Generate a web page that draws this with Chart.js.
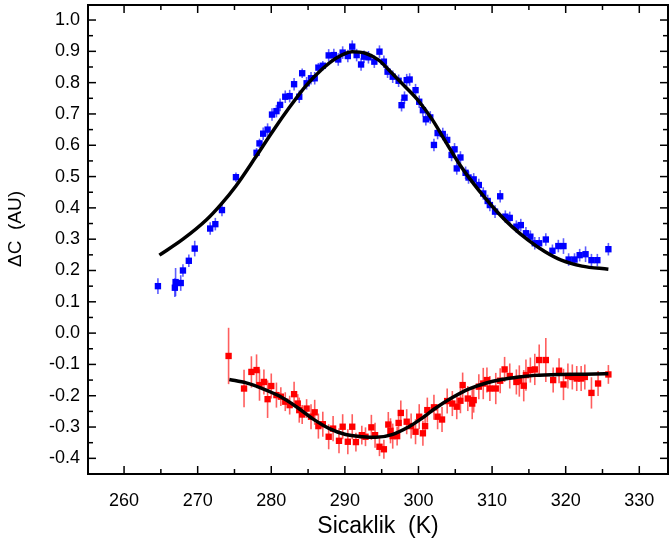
<!DOCTYPE html>
<html>
<head>
<meta charset="utf-8">
<script src="https://cdn.jsdelivr.net/npm/chart.js@4.4.1/dist/chart.umd.min.js"></script>
<style>
  html, body { margin: 0; padding: 0; background: #fff; }
</style>
</head>
<body>
<canvas id="chart" width="669" height="544"></canvas>
<script>
// axis ticks
const xTicks = [260, 270, 280, 290, 300, 310, 320, 330];
const yTicks = [-0.4, -0.3, -0.2, -0.1, 0.0, 0.1, 0.2, 0.3, 0.4, 0.5, 0.6, 0.7, 0.8, 0.9, 1.0];

// blue series (temperature K, dC, error)
const blueT = [
  264.6, 266.9, 267.0, 267.7, 268.0, 268.8, 269.6, 271.7, 272.4, 273.3,
  275.2, 278.0, 278.4, 278.9, 279.5, 280.1, 280.7, 281.2, 281.9, 282.5,
  283.1, 283.8, 284.2, 284.8, 285.4, 285.9, 286.4, 287.0, 287.8, 288.5,
  289.1, 289.7, 290.4, 291.0, 291.6, 292.2, 292.6, 293.2, 294.0, 294.7,
  295.3, 295.8, 296.5, 297.3, 297.7, 298.1, 298.4, 298.8, 299.6, 300.1,
  300.6, 301.0, 301.6, 302.1, 302.6, 303.3, 303.9, 304.5, 304.9, 305.2,
  305.7, 306.4, 306.8, 307.5, 308.2, 308.8, 309.4, 309.7, 310.4, 311.1,
  311.8, 312.4, 313.3, 313.9, 314.6, 315.2, 315.8, 316.4, 317.3, 318.2,
  319.0, 319.7, 320.4, 321.2, 321.9, 322.7, 323.5, 324.3, 325.8
];
const blueC = [
  0.150, 0.145, 0.163, 0.160, 0.200, 0.231, 0.270, 0.334, 0.348, 0.393,
  0.498, 0.576, 0.606, 0.637, 0.650, 0.698, 0.709, 0.729, 0.755, 0.757,
  0.795, 0.755, 0.830, 0.798, 0.814, 0.814, 0.848, 0.854, 0.887, 0.888,
  0.874, 0.896, 0.885, 0.915, 0.888, 0.858, 0.883, 0.881, 0.867, 0.899,
  0.867, 0.835, 0.819, 0.806, 0.728, 0.752, 0.808, 0.810, 0.776, 0.739,
  0.712, 0.683, 0.689, 0.601, 0.639, 0.636, 0.617, 0.569, 0.587, 0.526,
  0.561, 0.512, 0.497, 0.491, 0.473, 0.446, 0.422, 0.409, 0.388, 0.437,
  0.372, 0.368, 0.340, 0.345, 0.319, 0.308, 0.287, 0.287, 0.299, 0.263,
  0.278, 0.278, 0.235, 0.235, 0.249, 0.252, 0.233, 0.233, 0.268
];
const blueErr = [
  0.025, 0.030, 0.045, 0.025, 0.020, 0.020, 0.025, 0.020, 0.020, 0.020,
  0.015, 0.015, 0.015, 0.020, 0.020, 0.020, 0.020, 0.020, 0.020, 0.020,
  0.020, 0.020, 0.015, 0.020, 0.020, 0.020, 0.015, 0.015, 0.020, 0.020,
  0.020, 0.020, 0.020, 0.020, 0.020, 0.020, 0.020, 0.020, 0.020, 0.020,
  0.020, 0.020, 0.020, 0.020, 0.020, 0.020, 0.020, 0.020, 0.020, 0.020,
  0.020, 0.020, 0.020, 0.020, 0.020, 0.020, 0.020, 0.020, 0.020, 0.020,
  0.020, 0.020, 0.020, 0.020, 0.020, 0.020, 0.020, 0.020, 0.020, 0.020,
  0.020, 0.020, 0.020, 0.020, 0.020, 0.020, 0.020, 0.020, 0.020, 0.020,
  0.020, 0.025, 0.020, 0.020, 0.020, 0.025, 0.020, 0.020, 0.020
];

// red series
const redT = [
  274.2, 276.3, 277.3, 278.0, 278.4, 279.0, 279.5, 280.0, 280.7, 281.3,
  281.9, 282.5, 283.1, 283.6, 283.8, 284.2, 284.8, 285.4, 285.9, 286.4,
  287.0, 287.8, 288.4, 289.2, 289.7, 290.4, 291.0, 291.5, 292.3, 292.8,
  293.6, 294.1, 294.7, 295.3, 295.9, 296.2, 296.5, 297.1, 297.3, 297.6,
  298.4, 299.0, 299.6, 300.1, 300.6, 300.9, 301.2, 302.1, 302.6, 303.2,
  303.9, 304.6, 305.2, 305.7, 306.0, 306.7, 307.3, 307.5, 308.2, 308.8,
  309.3, 309.7, 310.5, 311.1, 311.7, 312.4, 313.3, 313.7, 314.3, 314.6,
  315.2, 315.8, 316.4, 317.3, 318.3, 319.1, 319.7, 320.3, 320.9, 321.5,
  322.1, 322.6, 323.5, 324.4, 325.8
];
const redC = [
  -0.073, -0.177, -0.124, -0.118, -0.166, -0.156, -0.211, -0.169, -0.198, -0.203,
  -0.219, -0.230, -0.195, -0.225, -0.246, -0.260, -0.241, -0.267, -0.253, -0.297,
  -0.291, -0.331, -0.305, -0.344, -0.299, -0.347, -0.299, -0.348, -0.326, -0.331,
  -0.301, -0.326, -0.363, -0.371, -0.292, -0.312, -0.329, -0.329, -0.287, -0.255,
  -0.283, -0.297, -0.315, -0.267, -0.320, -0.297, -0.246, -0.237, -0.267, -0.276,
  -0.217, -0.225, -0.235, -0.216, -0.166, -0.209, -0.225, -0.214, -0.171, -0.161,
  -0.150, -0.177, -0.177, -0.152, -0.116, -0.137, -0.156, -0.153, -0.168, -0.134,
  -0.118, -0.116, -0.086, -0.086, -0.150, -0.120, -0.164, -0.137, -0.140, -0.145,
  -0.145, -0.140, -0.191, -0.161, -0.132
];
const redErr = [
  0.090, 0.060, 0.050, 0.050, 0.050, 0.040, 0.060, 0.040, 0.040, 0.030,
  0.030, 0.030, 0.040, 0.030, 0.040, 0.030, 0.030, 0.040, 0.040, 0.040,
  0.040, 0.040, 0.040, 0.040, 0.040, 0.040, 0.040, 0.030, 0.030, 0.030,
  0.040, 0.040, 0.030, 0.030, 0.040, 0.040, 0.040, 0.030, 0.040, 0.040,
  0.040, 0.040, 0.040, 0.040, 0.040, 0.030, 0.040, 0.040, 0.040, 0.040,
  0.040, 0.040, 0.040, 0.040, 0.040, 0.040, 0.050, 0.040, 0.040, 0.050,
  0.040, 0.040, 0.050, 0.040, 0.040, 0.040, 0.040, 0.050, 0.050, 0.050,
  0.040, 0.050, 0.050, 0.070, 0.040, 0.040, 0.050, 0.040, 0.040, 0.040,
  0.040, 0.040, 0.050, 0.040, 0.030
];

// fitted curves
const blueFitT = [264.8, 268.0, 271.2, 273.2, 275.2, 277.9, 280.2, 282.5, 284.7, 287.0,
  288.8, 291.0, 292.8, 294.6, 296.4, 298.2, 300.1, 301.9, 303.7, 305.5,
  307.3, 309.1, 310.9, 312.7, 314.9, 317.2, 319.4, 322.2, 325.8];
const blueFitC = [0.249, 0.300, 0.362, 0.412, 0.470, 0.563, 0.645, 0.722, 0.790, 0.845,
  0.878, 0.899, 0.894, 0.872, 0.830, 0.787, 0.739, 0.681, 0.611, 0.542,
  0.483, 0.430, 0.382, 0.340, 0.297, 0.260, 0.233, 0.214, 0.204];
const redFitT = [274.3, 276.6, 278.8, 281.1, 283.4, 285.6, 287.9, 290.1, 292.4, 294.2,
  296.4, 298.7, 300.1, 302.3, 304.6, 306.8, 309.1, 311.3, 313.6, 315.8,
  319.0, 322.6, 325.8];
const redFitC = [-0.148, -0.159, -0.177, -0.201, -0.235, -0.273, -0.305, -0.324, -0.331, -0.333,
  -0.324, -0.299, -0.278, -0.240, -0.206, -0.179, -0.160, -0.148, -0.140, -0.135,
  -0.132, -0.131, -0.130];

const FONT = '"Liberation Sans", Arial, sans-serif';

const xy = (xs, ys) => xs.map((x, i) => ({ x: x, y: ys[i] }));

// error bars under the points, frame and inward ticks on all four sides
const originFrame = {
  id: 'originFrame',
  beforeDatasetsDraw(chart) {
    const ctx = chart.ctx;
    const ys = chart.scales.y;
    ctx.save();
    chart.data.datasets.forEach((ds, i) => {
      if (!ds.err) return;
      const meta = chart.getDatasetMeta(i);
      ctx.strokeStyle = ds.errColor;
      ctx.lineWidth = 1.6;
      meta.data.forEach((pt, j) => {
        const v = ds.data[j].y, e = ds.err[j];
        ctx.beginPath();
        ctx.moveTo(pt.x, ys.getPixelForValue(v + e));
        ctx.lineTo(pt.x, ys.getPixelForValue(v - e));
        ctx.stroke();
      });
    });
    ctx.restore();
  },
  afterDraw(chart) {
    const ctx = chart.ctx;
    const a = chart.chartArea;
    const xs = chart.scales.x, ys = chart.scales.y;
    ctx.save();
    ctx.strokeStyle = '#000';
    ctx.lineWidth = 2;
    ctx.strokeRect(a.left, a.top, a.right - a.left, a.bottom - a.top);
    ctx.lineWidth = 1.5;
    const tick = (x1, y1, x2, y2) => { ctx.beginPath(); ctx.moveTo(x1, y1); ctx.lineTo(x2, y2); ctx.stroke(); };
    const xMinor = xTicks.map(v => v - 5).concat([xTicks[xTicks.length - 1] + 5]);
    xTicks.forEach(v => {
      const p = xs.getPixelForValue(v);
      tick(p, a.bottom, p, a.bottom - 8);
      tick(p, a.top, p, a.top + 8);
    });
    xMinor.forEach(v => {
      if (v <= xs.min || v >= xs.max) return;
      const p = xs.getPixelForValue(v);
      tick(p, a.bottom, p, a.bottom - 5);
      tick(p, a.top, p, a.top + 5);
    });
    const yMinor = yTicks.map(v => v - 0.05).concat([yTicks[yTicks.length - 1] + 0.05]);
    yTicks.forEach(v => {
      const p = ys.getPixelForValue(v);
      tick(a.left, p, a.left + 8, p);
      tick(a.right, p, a.right - 8, p);
    });
    yMinor.forEach(v => {
      if (v <= ys.min || v >= ys.max) return;
      const p = ys.getPixelForValue(v);
      tick(a.left, p, a.left + 5, p);
      tick(a.right, p, a.right - 5, p);
    });
    ctx.restore();
  }
};

new Chart(document.getElementById('chart'), {
  type: 'scatter',
  data: {
    datasets: [
      {
        label: 'fit 1',
        data: xy(blueFitT, blueFitC),
        showLine: true,
        borderColor: '#000',
        borderWidth: 3.5,
        pointRadius: 0,
        cubicInterpolationMode: 'monotone',
        order: 0
      },
      {
        label: 'fit 2',
        data: xy(redFitT, redFitC),
        showLine: true,
        borderColor: '#000',
        borderWidth: 3.5,
        pointRadius: 0,
        cubicInterpolationMode: 'monotone',
        order: 0
      },
      {
        label: 'blue',
        data: xy(blueT, blueC),
        err: blueErr,
        errColor: 'rgba(40,40,255,0.75)',
        pointStyle: 'rect',
        pointRadius: 4.5,
        backgroundColor: '#0000ff',
        borderColor: '#0000ff',
        borderWidth: 0,
        order: 1
      },
      {
        label: 'red',
        data: xy(redT, redC),
        err: redErr,
        errColor: 'rgba(255,40,40,0.75)',
        pointStyle: 'rect',
        pointRadius: 4.5,
        backgroundColor: '#ff0000',
        borderColor: '#ff0000',
        borderWidth: 0,
        order: 1
      }
    ]
  },
  options: {
    responsive: false,
    animation: false,
    layout: { autoPadding: false, padding: { top: 5, right: 1, left: 0, bottom: 0 } },
    plugins: {
      legend: { display: false },
      tooltip: { enabled: false }
    },
    scales: {
      x: {
        type: 'linear',
        min: 255.1,
        max: 333.9,
        grid: { display: false, drawTicks: false },
        border: { display: false },
        afterBuildTicks: s => { s.ticks = xTicks.map(v => ({ value: v })); },
        afterFit: s => { s.height = 70; s.paddingLeft = 0; s.paddingRight = 0; },
        ticks: {
          color: '#000',
          font: { family: FONT, size: 18 },
          padding: 16,
          callback: v => String(v)
        },
        title: {
          display: true,
          text: 'Sicaklik  (K)',
          color: '#000',
          font: { family: FONT, size: 23 },
          padding: { top: 0, bottom: 4 }
        }
      },
      y: {
        type: 'linear',
        min: -0.45,
        max: 1.048,
        grid: { display: false, drawTicks: false },
        border: { display: false },
        afterBuildTicks: s => { s.ticks = yTicks.map(v => ({ value: v })); },
        afterFit: s => { s.width = 88; s.paddingTop = 0; s.paddingBottom = 0; },
        ticks: {
          color: '#000',
          font: { family: FONT, size: 18 },
          padding: 8,
          callback: v => v.toFixed(1)
        },
        title: {
          display: true,
          text: '    ΔC  (AU)',
          color: '#000',
          font: { family: FONT, size: 19 },
          padding: { top: 4, bottom: 0 }
        }
      }
    }
  },
  plugins: [originFrame]
});
</script>
</body>
</html>
